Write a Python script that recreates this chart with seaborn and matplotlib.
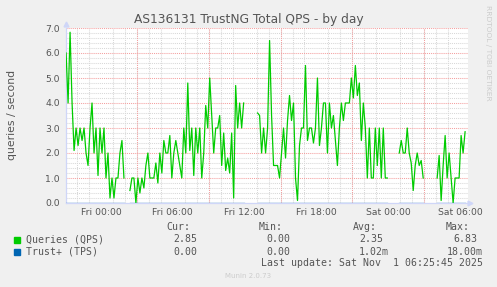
import numpy as np
import pandas as pd
import matplotlib
matplotlib.use("Agg")
import matplotlib.pyplot as plt
import seaborn as sns
from matplotlib.patches import Rectangle

nan = np.nan

# ---------------- data ----------------
# 10-minute samples, first sample Thu 21:05 (hours relative to Fri 00:00)
start_hour = -2.9167
step_hours = 1.0 / 6.0

qps = [
    6.0, 4.0, 6.83, 4.0, 2.1, 3.0, 2.3, 3.0, 2.5, 3.0,
    2.0, 1.5, 3.0, 4.0, 2.0, 3.0, 1.1, 3.0, 2.0, 3.0,
    1.0, 2.0, 0.2, 1.0, 0.2, 1.0, 1.0, 2.0, 2.5, 1.0,
    nan, nan, 0.5, 1.0, 1.0, 0.0, 1.0, 0.4, 1.0, 0.6,
    1.5, 2.0, 1.0, 1.0, 1.0, 1.6, 0.8, 2.0, 1.2, 2.5,
    2.0, 2.0, 2.7, 1.0, 2.0, 2.5, 2.0, 1.5, 1.0, 3.0,
    2.0, 4.8, 2.1, 3.0, 1.1, 3.0, 2.0, 3.0, 1.0, 2.0,
    3.9, 3.0, 5.0, 3.5, 2.0, 3.0, 3.0, 3.5, 1.5, 2.8,
    1.3, 1.8, 1.2, 2.8, 0.2, 4.7, 3.0, 4.0, 3.0, 4.0,
    nan, nan, nan, nan, nan, nan, 3.6, 3.5, 2.0, 3.0,
    2.0, 3.0, 6.5, 3.5, 1.5, 1.5, 1.5, 1.0, 2.0, 3.0,
    1.8, 3.3, 4.3, 3.3, 4.0, 1.0, 0.1, 2.3, 3.0, 3.0,
    5.5, 2.5, 3.0, 3.0, 2.4, 3.0, 5.0, 2.3, 3.0, 4.0,
    4.0, 2.0, 4.0, 3.0, 3.5, 2.5, 1.5, 3.0, 4.0, 3.3,
    4.0, 4.0, 4.0, 5.0, 4.2, 5.5, 4.3, 4.8, 2.5, 4.0,
    3.0, 1.0, 3.0, 1.0, 1.0, 3.0, 1.5, 3.0, 1.0, 3.0,
    1.0, 1.0, nan, nan, nan, nan, nan, 2.0, 2.5, 2.0,
    2.0, 3.0, 2.0, 1.6, 0.5, 1.5, 2.0, 1.5, 1.7, 1.0,
    nan, nan, nan, nan, nan, nan, 1.0, 1.9, 0.1, 1.5,
    2.7, 1.0, 2.0, 1.0, 0.0, 1.0, 1.0, 1.0, 2.7, 2.0,
    2.85,
]

tps = ([0.0] * 30 + [nan] * 2 + [0.0] * 58 + [nan] * 6 + [0.0] * 66
       + [nan] * 5 + [0.0] * 13 + [nan] * 6 + [0.0] * 15)

xtick_hours = [0, 6, 12, 18, 24, 30]
xtick_labels = ["Fri 00:00", "Fri 06:00", "Fri 12:00", "Fri 18:00", "Sat 00:00", "Sat 06:00"]
major_vgrid_hours = [3, 9, 15, 21, 27]
ytick_values = [0, 1, 2, 3, 4, 5, 6, 7]
ytick_labels = ["0.0", "1.0", "2.0", "3.0", "4.0", "5.0", "6.0", "7.0"]

series_names = ["Queries (QPS)", "Trust+ (TPS)"]
series_colors = ["#00CC00", "#0066B3"]
stat_headers = ["Cur:", "Min:", "Avg:", "Max:"]
stat_cur = ["2.85", "0.00"]
stat_min = ["0.00", "0.00"]
stat_avg = ["2.35", "1.02m"]
stat_max = ["6.83", "18.00m"]

title = "AS136131 TrustNG Total QPS - by day"
ylabel = "queries / second"
last_update = "Last update: Sat Nov  1 06:25:45 2025"
footer = "Munin 2.0.73"
side_mark = "RRDTOOL / TOBI OETIKER"

# ---------------- figure ----------------
W, H = 497, 287
plt.rcParams['font.family'] = ['DejaVu Sans']
fig = plt.figure(figsize=(W / 100, H / 100), dpi=100, facecolor="#F0F0F0")

L, R, T, B = 66, 468, 28, 203
ax = fig.add_axes([L / W, 1 - B / H, (R - L) / W, (B - T) / H])
ax.set_facecolor("white")

def to_frame(values):
    v = np.asarray(values, dtype=float)
    hours = start_hour + step_hours * np.arange(len(v))
    seg = np.cumsum(np.isnan(v))
    df = pd.DataFrame({"hour": hours, "value": v, "seg": seg})
    return df.dropna()

for vals, col in [(qps, series_colors[0]), (tps, series_colors[1])]:
    sns.lineplot(data=to_frame(vals), x="hour", y="value", units="seg",
                 estimator=None, color=col, lw=0.9, ax=ax, legend=False,
                 zorder=3)

xmin = (L - 101) / 11.97
xmax = (R - 101) / 11.97
ax.set_xlim(xmin, xmax)
ax.set_ylim(0, 7)

ax.set_xticks(xtick_hours)
ax.set_xticklabels(xtick_labels)
ax.set_xticks(np.arange(-2, 31, 1), minor=True)
ax.set_yticks(ytick_values)
ax.set_yticklabels(ytick_labels)
ax.set_yticks(np.arange(0, 7.01, 0.2), minor=True)

dot = (0, (1, 1))
ax.grid(False)
ax.yaxis.grid(True, which="major", color="#F4A0A0", lw=0.75, linestyle=dot, zorder=1)
ax.yaxis.grid(True, which="minor", color="#D8D8D8", lw=0.75, linestyle=dot, zorder=1)
ax.xaxis.grid(True, which="minor", color="#D8D8D8", lw=0.75, linestyle=dot, zorder=1)
ax.vlines(major_vgrid_hours, 0, 7, colors="#F4A0A0", lw=0.75, linestyles=dot, zorder=1.5)
ax.set_axisbelow(True)

ax.tick_params(axis="both", which="both", length=0, colors="#555555")
ax.tick_params(axis="x", labelsize=6.7, pad=3.5)
ax.tick_params(axis="y", labelsize=6.7, pad=4.5)
ax.set_xlabel("")
ax.set_ylabel("")

for s in ["top", "right"]:
    ax.spines[s].set_visible(False)
for s in ["left", "bottom"]:
    ax.spines[s].set_color("#CFD6F8")
    ax.spines[s].set_linewidth(0.9)

# axis arrows
ax.plot([0], [1.025], marker="^", ms=3.5, color="#CFD6F8", transform=ax.transAxes,
        clip_on=False, zorder=4)
ax.plot([1.006], [0], marker=">", ms=3.5, color="#CFD6F8", transform=ax.transAxes,
        clip_on=False, zorder=4)

def fx(x):
    return x / W

def fy(y):
    return 1 - y / H

txt = "#555555"
fig.text(fx(248.5), fy(19), title, ha="center", va="center", fontsize=8.8, color=txt)
fig.text(fx(12), fy(115), ylabel, ha="center", va="center", rotation=90,
         fontsize=7.8, color=txt)
fig.text(fx(488), fy(5), side_mark, ha="center", va="top", rotation=270,
         fontsize=5.4, color="#CCCCCC")

mono = "DejaVu Sans Mono"
fs = 7.1
col_right = [190, 283, 377, 470]
val_right = [197, 290, 383, 477]
for xr, h in zip(col_right, stat_headers):
    fig.text(fx(xr), fy(227), h, ha="right", va="center", fontsize=fs,
             family=mono, color=txt)

row_y = [239.5, 251.7]
for i, name in enumerate(series_names):
    y = row_y[i]
    fig.patches.append(Rectangle((fx(14), fy(y + 3)), 6 / W, 6 / H,
                                 transform=fig.transFigure, color=series_colors[i]))
    fig.text(fx(26), fy(y), name, ha="left", va="center", fontsize=fs,
             family=mono, color=txt)
    vals = [stat_cur[i], stat_min[i], stat_avg[i], stat_max[i]]
    for j, v in enumerate(vals):
        xr = val_right[j]
        if v.endswith("m"):
            xr += 6
        fig.text(fx(xr), fy(y), v, ha="right", va="center", fontsize=fs,
                 family=mono, color=txt)

fig.text(fx(483), fy(263.5), last_update, ha="right", va="center", fontsize=fs,
         family=mono, color=txt)
fig.text(fx(248), fy(276), footer, ha="center", va="center", fontsize=5,
         color="#CCCCCC")

fig.savefig("out.png", dpi=100, facecolor=fig.get_facecolor())
